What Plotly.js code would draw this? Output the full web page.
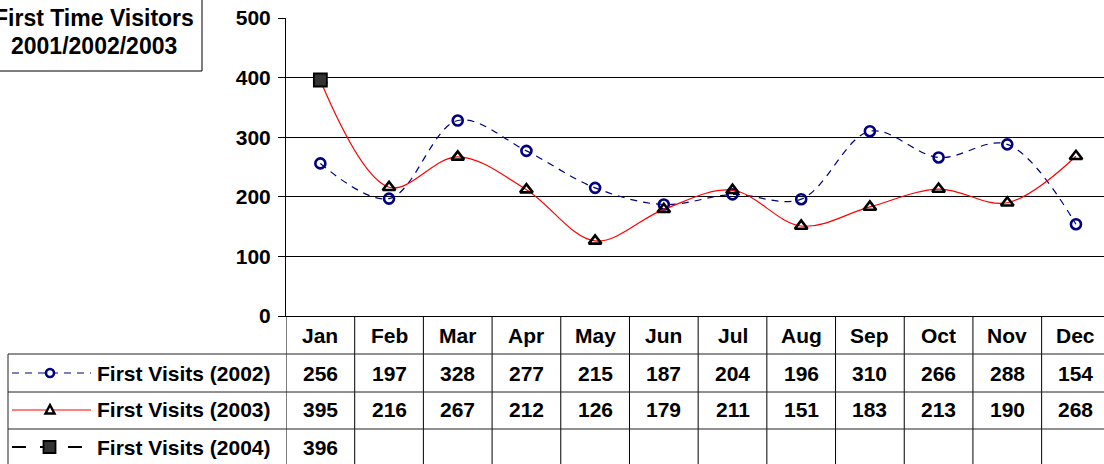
<!DOCTYPE html>
<html>
<head>
<meta charset="utf-8">
<script src="https://cdn.plot.ly/plotly-3.0.1.min.js"></script>
<style>html,body{margin:0;padding:0;background:#fff;overflow:hidden}#chart{width:1104px;height:464px}</style>
</head>
<body>
<div id="chart"></div>
<script>
// ---- data ----
const months = ["Jan","Feb","Mar","Apr","May","Jun","Jul","Aug","Sep","Oct","Nov","Dec"];
const visits2002 = [256,197,328,277,215,187,204,196,310,266,288,154];
const visits2003 = [395,216,267,212,126,179,211,151,183,213,190,268];
const visits2004 = [396,null,null,null,null,null,null,null,null,null,null,null];
const seriesNames = ["First Visits (2002)","First Visits (2003)","First Visits (2004)"];
const titleLines = ["First Time Visitors","2001/2002/2003"];
const yTicks = [0,100,200,300,400,500];

// ---- layout helpers (pixel -> paper) ----
const L = 286, W = 818, T = 18, H = 298;
const xp = px => (px - L) / W;
const yp = py => (T + H - py) / H;
const FONT = {family:"Liberation Sans, Arial, sans-serif", size:21, color:"#000", weight:"bold"};
const TFONT = {family:"Liberation Sans, Arial, sans-serif", size:23, color:"#000", weight:"bold"};
const idx = months.map((m,i)=>i);

const traces = [
  {x: idx, y: visits2002, name: seriesNames[0], mode:"lines+markers",
   line:{color:"#000080", width:1.2, dash:"7px,6px", shape:"spline", smoothing:1},
   marker:{symbol:"circle-open", size:10, color:"#000080", line:{width:2.6, color:"#000080"}}},
  {x: idx, y: visits2003, name: seriesNames[1], mode:"lines+markers",
   line:{color:"#FF0000", width:1.2, shape:"spline", smoothing:1},
   marker:{symbol:"triangle-up-open", size:11, color:"#000", line:{width:2.6, color:"#000"}}},
  {x: idx, y: visits2004, name: seriesNames[2], mode:"markers",
   marker:{symbol:"square", size:13, color:"#333333", line:{width:1.8, color:"#000"}}}
];

const shapes = [];
const annotations = [];
const rowY = [335, 373, 410, 447];
const rowLines = [354, 392, 429];

// table vertical lines (column boundaries in data coords)
for (let i = -1; i < months.length; i++) {
  shapes.push({type:"line", xref:"x", yref:"paper", x0:i+0.5, x1:i+0.5, y0:0, y1:yp(470),
    line:{color:"#000", width:1}});
}
// table horizontal lines
rowLines.forEach(py => shapes.push({type:"line", xref:"paper", yref:"paper",
  x0:xp(8), x1:xp(1110), y0:yp(py), y1:yp(py), line:{color:"#222", width:1}}));
// legend box left border
shapes.push({type:"line", xref:"paper", yref:"paper", x0:xp(8), x1:xp(8), y0:yp(354), y1:yp(470),
  line:{color:"#222", width:1}});

// header labels
months.forEach((m,i) => annotations.push({x:i, xref:"x", y:yp(rowY[0]), yref:"paper",
  text:"<b>"+m+"</b>", showarrow:false, font:FONT, xanchor:"center", yanchor:"middle"}));
// value cells
[visits2002, visits2003, visits2004].forEach((arr,r) => arr.forEach((v,i) => {
  if (v === null) return;
  annotations.push({x:i, xref:"x", y:yp(rowY[r+1]), yref:"paper", text:"<b>"+v+"</b>",
    showarrow:false, font:FONT, xanchor:"center", yanchor:"middle"});
}));
// series names
seriesNames.forEach((n,r) => annotations.push({x:xp(273), xref:"paper", y:yp(rowY[r+1]), yref:"paper",
  text:"<b>"+n+"</b>", showarrow:false, font:FONT, xanchor:"right", yanchor:"middle"}));

// legend keys
const ky = rowY.slice(1);
shapes.push({type:"line", xref:"paper", yref:"paper", x0:xp(12), x1:xp(91), y0:yp(ky[0]), y1:yp(ky[0]),
  line:{color:"#000080", width:1.2, dash:"7px,6px"}});
shapes.push({type:"circle", xref:"paper", yref:"paper", x0:xp(46), x1:xp(54), y0:yp(ky[0]+4), y1:yp(ky[0]-4),
  fillcolor:"#fff", line:{color:"#000080", width:2.6}});
shapes.push({type:"line", xref:"paper", yref:"paper", x0:xp(12), x1:xp(91), y0:yp(ky[1]), y1:yp(ky[1]),
  line:{color:"#FF0000", width:1.2}});
shapes.push({type:"path", xref:"paper", yref:"paper",
  path:`M ${xp(50)} ${yp(ky[1]-5)} L ${xp(54.5)} ${yp(ky[1]+3.5)} L ${xp(45.5)} ${yp(ky[1]+3.5)} Z`,
  fillcolor:"#fff", line:{color:"#000", width:2.4}});
shapes.push({type:"line", xref:"paper", yref:"paper", x0:xp(12), x1:xp(88), y0:yp(ky[2]), y1:yp(ky[2]),
  line:{color:"#000", width:2.2, dash:"14px,14px"}});
shapes.push({type:"rect", xref:"paper", yref:"paper", x0:xp(43.5), x1:xp(55.5), y0:yp(ky[2]+6), y1:yp(ky[2]-6),
  fillcolor:"#333333", line:{color:"#000", width:1.8}});

// title box
shapes.push({type:"rect", xref:"paper", yref:"paper", x0:xp(-3), x1:xp(202), y0:yp(71), y1:yp(-3),
  fillcolor:"rgba(0,0,0,0)", line:{color:"#000", width:1}});
annotations.push({x:xp(93.5), xref:"paper", y:yp(18), yref:"paper", text:"<b>"+titleLines[0]+"</b>",
  showarrow:false, font:TFONT, xanchor:"center", yanchor:"middle"});
annotations.push({x:xp(93.5), xref:"paper", y:yp(46), yref:"paper", text:"<b>"+titleLines[1]+"</b>",
  showarrow:false, font:TFONT, xanchor:"center", yanchor:"middle"});

const layout = {
  width:1104, height:464,
  margin:{l:L, r:1104-L-W, t:T, b:464-T-H, pad:0},
  paper_bgcolor:"#fff", plot_bgcolor:"#fff",
  showlegend:false,
  font:FONT,
  xaxis:{range:[-0.5, 11.408], showticklabels:false, ticks:"", showgrid:false, zeroline:false,
    showline:true, linecolor:"#000", linewidth:1, fixedrange:true},
  yaxis:{range:[0,500], tickvals:yTicks, ticktext:yTicks.map(v=>"<b>"+v+"</b>"), ticks:"outside", ticklen:7,
    tickcolor:"#000", tickwidth:1, showgrid:true, gridcolor:"#000", gridwidth:1, zeroline:false,
    showline:true, linecolor:"#000", linewidth:1, tickfont:FONT, ticklabelstandoff:3, fixedrange:true},
  shapes:shapes, annotations:annotations
};
Plotly.newPlot("chart", traces, layout, {staticPlot:true, displayModeBar:false});
</script>
</body>
</html>
